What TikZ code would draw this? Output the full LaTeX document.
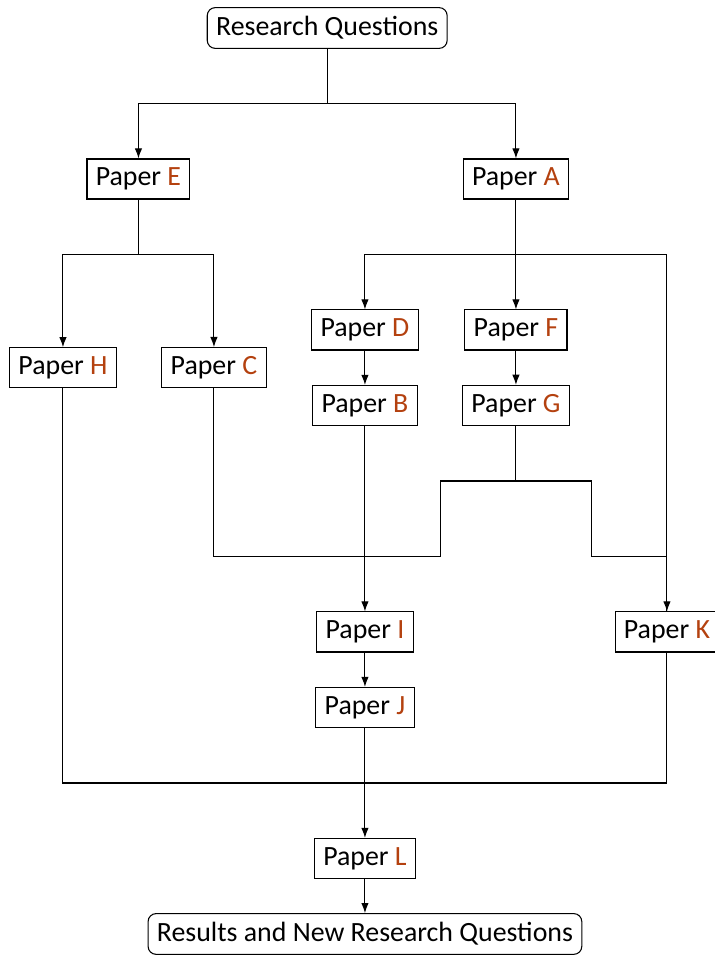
\documentclass[tikz,border=0pt]{standalone}
\usepackage{fontspec}
\setmainfont{Carlito}
\usepackage{tikz}
\usetikzlibrary{arrows.meta}

\definecolor{paperorange}{RGB}{180,65,15}
\newcommand{\paper}[1]{Paper \textcolor{paperorange}{#1}}

\tikzset{
  paperbox/.style={draw, fill=white},
  questionbox/.style={draw, rounded corners=3pt, fill=white},
  >={Latex[length=3.8pt, width=2.8pt]}
}

\begin{document}
\begin{tikzpicture}[font=\fontsize{10.5}{12}\selectfont]
    \useasboundingbox (-0.834,-0.305) rectangle (8.636,12.371);
    \node[questionbox] (RQ) at (3.5, 12){Research Questions};
    \node[paperbox] (E) at (1, 10){\paper{E}};
    \node[paperbox] (A) at (6, 10){\paper{A}};
    \node[paperbox] (H) at (0, 7.5){\paper{H}};
    \node[paperbox] (C) at (2, 7.5){\paper{C}};
    \node[paperbox] (D) at (4, 8){\paper{D}};
    \node[paperbox] (F) at (6, 8){\paper{F}};
    \node[paperbox] (B) at (4, 7){\paper{B}};
    \node[paperbox] (G) at (6, 7){\paper{G}};
    \node[paperbox] (I) at (4, 4){\paper{I}};
    \node[paperbox] (K) at (8, 4){\paper{K}};
    \node[paperbox] (J) at (4, 3){\paper{J}};
    \node[paperbox] (L) at (4, 1){\paper{L}};
    \node[questionbox] (RNQ) at (4, 0){Results and New Research Questions};
    \coordinate (j1) at (3.5, 11);
    \coordinate (j2) at (1, 9);
    \coordinate (j3) at (6, 9);
    \coordinate (j4) at (6, 6);
    \coordinate (j5) at (5, 5);
    \coordinate (j6) at (7, 5);
    \coordinate (j7) at (4, 2);
    \draw (RQ)--(j1);
    \draw[->] (j1)-|(E);
    \draw[->] (j1)-|(A);
    \draw (E)--(j2);
    \draw[->] (j2)-|(H);
    \draw[->] (j2)-|(C);
    \draw[->] (A)--(F);
    \draw[->] (j3)-|(D);
    \draw[->] (j3)-|(K);
    \draw[->] (D)--(B);
    \draw[->] (F)--(G);
    \draw (G)--(j4);
    \draw (j4)-|(j5)-|(C);
    \draw (j4)-|(j6)-|(K);
    \draw[->] (B)--(I);
    \draw[->] (I)--(J);
    \draw (H)|-(j7)-|(K);
    \draw[->] (J)--(L);
    \draw[->] (L)--(RNQ);
  \end{tikzpicture}
\end{document}
